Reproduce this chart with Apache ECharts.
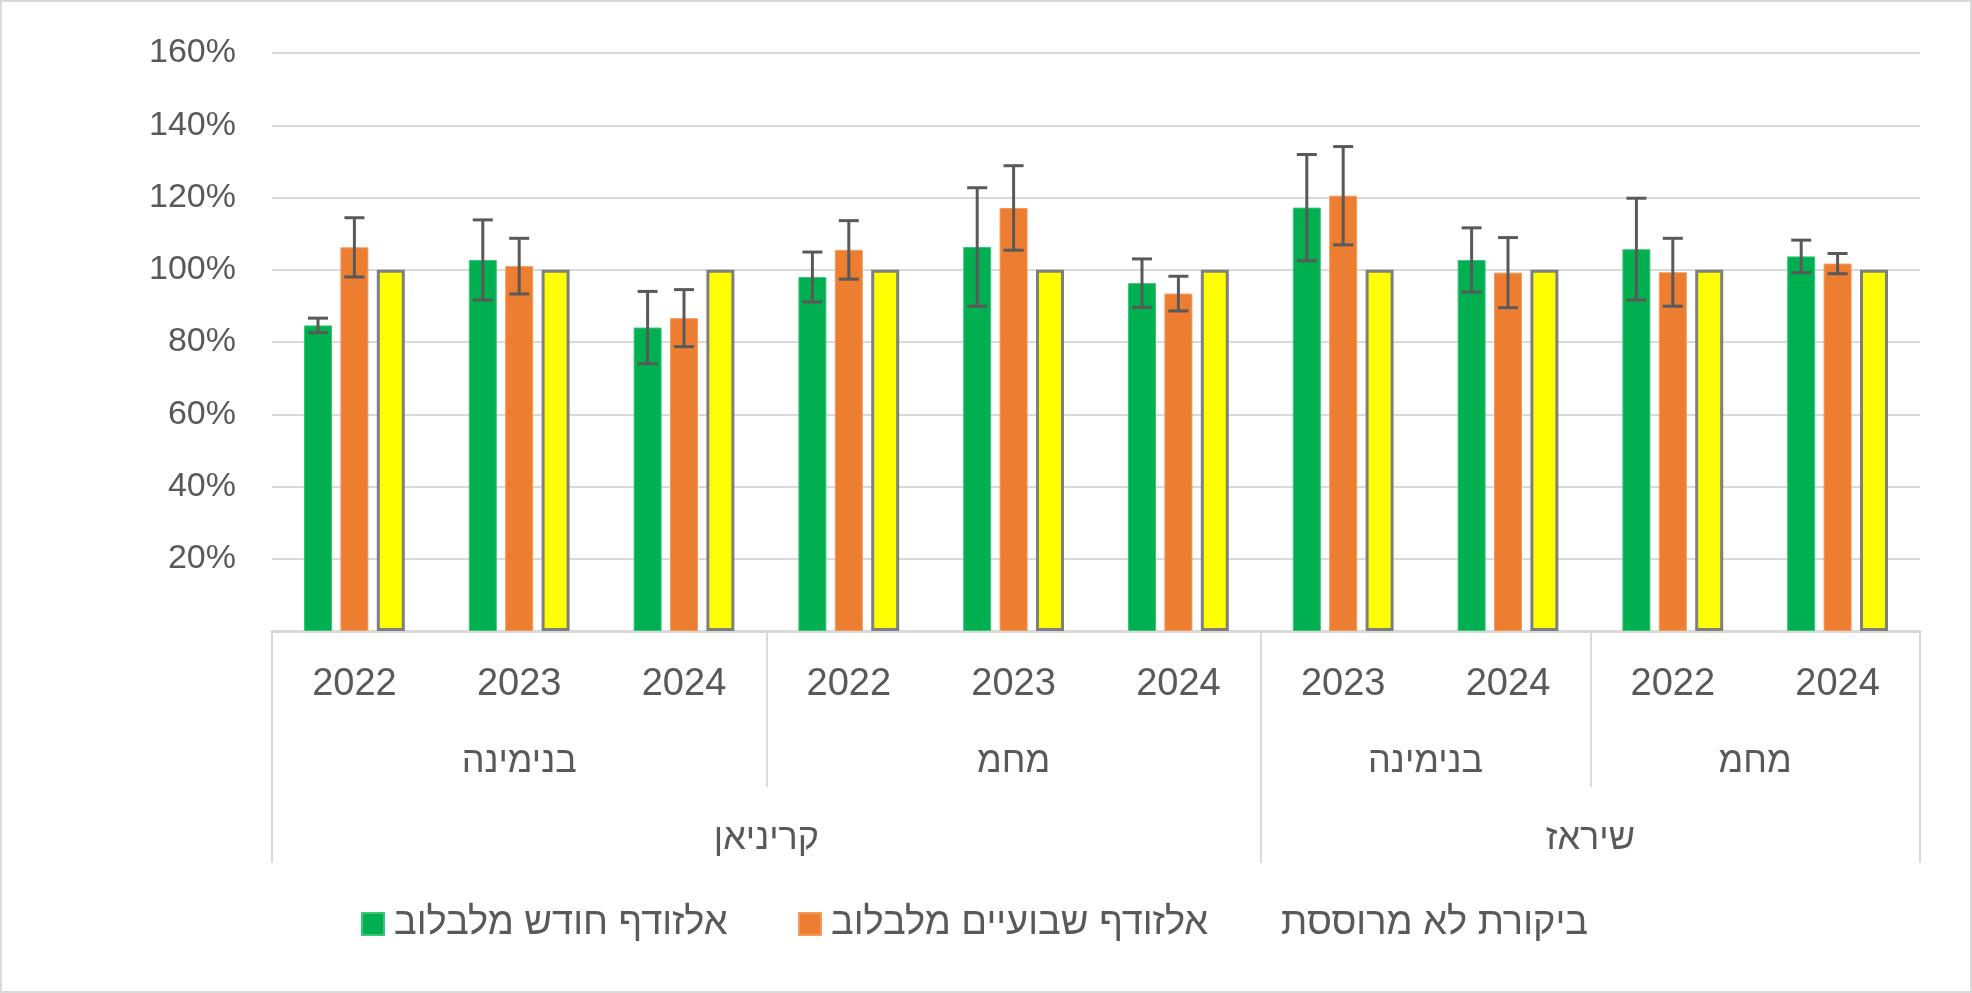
<!DOCTYPE html>
<html>
<head>
<meta charset="utf-8">
<script src="https://cdn.jsdelivr.net/npm/echarts@6/dist/echarts.min.js"></script>
<style>
  html, body { margin: 0; padding: 0; background: #fff; }
  #main { width: 1972px; height: 993px; }
</style>
</head>
<body>
<div id="main"></div>
<script>
// x axis, three rows
var years = ['2022', '2023', '2024', '2022', '2023', '2024', '2023', '2024', '2022', '2024'];
var sites = ['בנימינה', 'מחמ', 'בנימינה', 'מחמ'];
var siteSpans = [3, 3, 2, 2];
var regions = ['קריניאן', 'שיראז'];
var regionSpans = [6, 4];

// series (percent)
var seriesNames = ['אלזודף חודש מלבלוב', 'אלזודף שבועיים מלבלוב', 'ביקורת לא מרוססת'];
var monthly = [84.6, 102.7, 84.0, 98.0, 106.3, 96.3, 117.2, 102.7, 105.7, 103.7];
var monthlyErr = [2.0, 11.1, 10.0, 6.9, 16.4, 6.7, 14.7, 8.9, 14.1, 4.5];
var biweekly = [106.2, 101.0, 86.6, 105.5, 117.1, 93.4, 120.5, 99.2, 99.3, 101.7];
var biweeklyErr = [8.2, 7.7, 7.9, 8.1, 11.7, 4.8, 13.6, 9.7, 9.4, 2.8];
var control = [100, 100, 100, 100, 100, 100, 100, 100, 100, 100];

var FONT = '"Liberation Sans", Arial, sans-serif';
var TXT = '#595959';
var LINE = '#D9D9D9';
var BAR_W = 28;
var BAR_GAP = 0.3;

// boundaries and centers for the grouped label rows
function edges(spans) {
  var out = [0], s = 0;
  spans.forEach(function (n) { s += n; out.push(s); });
  return out;
}
function centers(spans) {
  var e = edges(spans);
  return spans.map(function (n, i) { return e[i] + n / 2; });
}
var siteCenters = centers(siteSpans);
var regionCenters = centers(regionSpans);

function errData(vals, errs) {
  return vals.map(function (v, i) { return [i, v, errs[i]]; });
}

function errRender(offset) {
  return function (params, api) {
    var i = api.value(0);
    var v = api.value(1);
    var e = api.value(2);
    var hi = api.coord([i, v + e]);
    var lo = api.coord([i, v - e]);
    var x = hi[0] + offset;
    var style = { stroke: '#595959', lineWidth: 3 };
    return {
      type: 'group',
      children: [
        { type: 'line', shape: { x1: x, y1: hi[1], x2: x, y2: lo[1] }, style: style },
        { type: 'line', shape: { x1: x - 10, y1: hi[1], x2: x + 10, y2: hi[1] }, style: style },
        { type: 'line', shape: { x1: x - 10, y1: lo[1], x2: x + 10, y2: lo[1] }, style: style }
      ]
    };
  };
}

var step = BAR_W * (1 + BAR_GAP);

function legendAt(item, left) {
  return {
    data: [item], left: left, top: 905, padding: 0,
    itemWidth: 22, itemHeight: 22, icon: 'rect',
    textStyle: { fontSize: 38, color: TXT, fontFamily: FONT, padding: [0, 0, 0, 5] }
  };
}

var chart = echarts.init(document.getElementById('main'));
var option = {
  animation: false,
  backgroundColor: '#fff',
  textStyle: { fontFamily: FONT },
  graphic: [{
    type: 'rect',
    shape: { x: 1, y: 1, width: 1970, height: 991 },
    style: { fill: 'none', stroke: LINE, lineWidth: 2 },
    silent: true
  }],
  grid: { left: 272, right: 52, top: 53, bottom: 362 },
  legend: [
    legendAt(seriesNames[0], 361),
    legendAt(seriesNames[1], 798),
    legendAt({ name: seriesNames[2], itemStyle: { opacity: 0 } }, 1248)
  ],
  xAxis: [
    {
      type: 'category',
      data: years,
      axisLine: { lineStyle: { color: LINE, width: 3 } },
      axisTick: { show: false },
      axisLabel: { color: TXT, fontSize: 38, margin: 35, fontFamily: FONT }
    },
    {
      type: 'value', min: 0, max: 10, position: 'bottom',
      axisLine: { show: false },
      splitLine: { show: false },
      axisTick: {
        show: true, customValues: edges(siteSpans), length: 156,
        lineStyle: { color: LINE, width: 2 }
      },
      axisLabel: {
        show: true, customValues: siteCenters, margin: 113,
        color: TXT, fontSize: 36, fontFamily: FONT,
        formatter: function (v) { return sites[siteCenters.indexOf(v)] || ''; }
      }
    },
    {
      type: 'value', min: 0, max: 10, position: 'bottom',
      axisLine: { show: false },
      splitLine: { show: false },
      axisTick: {
        show: true, customValues: edges(regionSpans), length: 232,
        lineStyle: { color: LINE, width: 2 }
      },
      axisLabel: {
        show: true, customValues: regionCenters, margin: 190,
        color: TXT, fontSize: 36, fontFamily: FONT,
        formatter: function (v) { return regions[regionCenters.indexOf(v)] || ''; }
      }
    }
  ],
  yAxis: {
    type: 'value', min: 0, max: 160, interval: 20,
    axisLine: { show: false },
    axisTick: { show: false },
    splitLine: { lineStyle: { color: LINE, width: 2 } },
    axisLabel: {
      color: TXT, fontSize: 34, margin: 36, fontFamily: FONT,
      formatter: function (v) { return v === 0 ? '' : v + '%'; }
    }
  },
  series: [
    {
      name: seriesNames[0], type: 'bar', data: monthly,
      barWidth: BAR_W, barGap: (BAR_GAP * 100) + '%',
      itemStyle: { color: '#00B050', borderColor: '#3CC67A', borderWidth: 1 }
    },
    {
      name: seriesNames[1], type: 'bar', data: biweekly,
      barWidth: BAR_W, barGap: (BAR_GAP * 100) + '%',
      itemStyle: { color: '#ED7D31', borderColor: '#F29A5E', borderWidth: 1 }
    },
    {
      name: seriesNames[2], type: 'bar', data: control,
      barWidth: BAR_W, barGap: (BAR_GAP * 100) + '%',
      itemStyle: { color: '#FFFF00', borderColor: '#7F7F7F', borderWidth: 3 }
    },
    {
      name: 'err1', type: 'custom', data: errData(monthly, monthlyErr),
      renderItem: errRender(-step), z: 5
    },
    {
      name: 'err2', type: 'custom', data: errData(biweekly, biweeklyErr),
      renderItem: errRender(0), z: 5
    }
  ]
};
chart.setOption(option);
</script>
</body>
</html>
